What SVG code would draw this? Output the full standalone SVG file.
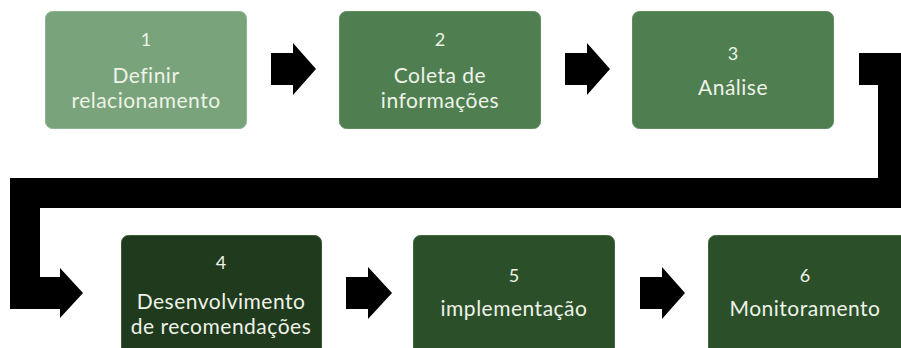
<svg xmlns="http://www.w3.org/2000/svg" width="901" height="348" viewBox="0 0 901 348">
<style>
.box{stroke-width:1}
.b1{fill:#79a47b;stroke:#8db58f}
.b2{fill:#4f7f51;stroke:#5f8d61}
.b4{fill:#1f3a1d;stroke:#3a5a36}
.b5{fill:#2b5029;stroke:#3f6a3c}
.num{font-family:Lato,"Open Sans",sans-serif;font-size:18px;fill:#eef2e8;text-anchor:middle}
.lbl{font-family:Lato,"Open Sans",sans-serif;font-size:21px;letter-spacing:0.5px;fill:#eef2e8;text-anchor:middle}
.arr{fill:#000}
</style>
<rect width="901" height="348" fill="#fff"/>
<g id="connectors">
<path class="arr" d="M271,53 H293 V43 L316,69 L293,95 V85 H271 Z"/>
<path class="arr" d="M565,53 H587 V43 L610,69 L587,95 V85 H565 Z"/>
<path class="arr" d="M859,53 H901 V208 H40 V277 H60 V268 L83,293 L60,318 V309 H10 V178 H878 V85 H859 Z"/>
<path class="arr" d="M346,277 H368 V267 L392,293 L368,319 V309 H346 Z"/>
<path class="arr" d="M640,277 H662 V267 L685,293 L662,319 V309 H640 Z"/>
</g>
<g id="node1">
<rect class="box b1" x="45.5" y="11.5" width="201" height="117" rx="7"/>
<text class="num" x="146" y="46">1</text>
<text class="lbl" x="146" y="83">Definir</text>
<text class="lbl" x="146" y="108">relacionamento</text>
</g>
<g id="node2">
<rect class="box b2" x="339.5" y="11.5" width="201" height="117" rx="7"/>
<text class="num" x="440" y="46">2</text>
<text class="lbl" x="440" y="83">Coleta de</text>
<text class="lbl" x="440" y="108">informações</text>
</g>
<g id="node3">
<rect class="box b2" x="632.5" y="11.5" width="201" height="117" rx="7"/>
<text class="num" x="733" y="60">3</text>
<text class="lbl" x="733" y="95">Análise</text>
</g>
<g id="node4">
<rect class="box b4" x="121.5" y="235.5" width="200" height="125" rx="7"/>
<text class="num" x="221" y="269">4</text>
<text class="lbl" x="221" y="309">Desenvolvimento</text>
<text class="lbl" x="221" y="334">de recomendações</text>
</g>
<g id="node5">
<rect class="box b5" x="413.5" y="235.5" width="201" height="125" rx="7"/>
<text class="num" x="514" y="282">5</text>
<text class="lbl" x="514" y="316">implementação</text>
</g>
<g id="node6">
<rect class="box b5" x="708.5" y="235.5" width="201" height="125" rx="7"/>
<text class="num" x="805" y="282">6</text>
<text class="lbl" x="805" y="316">Monitoramento</text>
</g>
</svg>
